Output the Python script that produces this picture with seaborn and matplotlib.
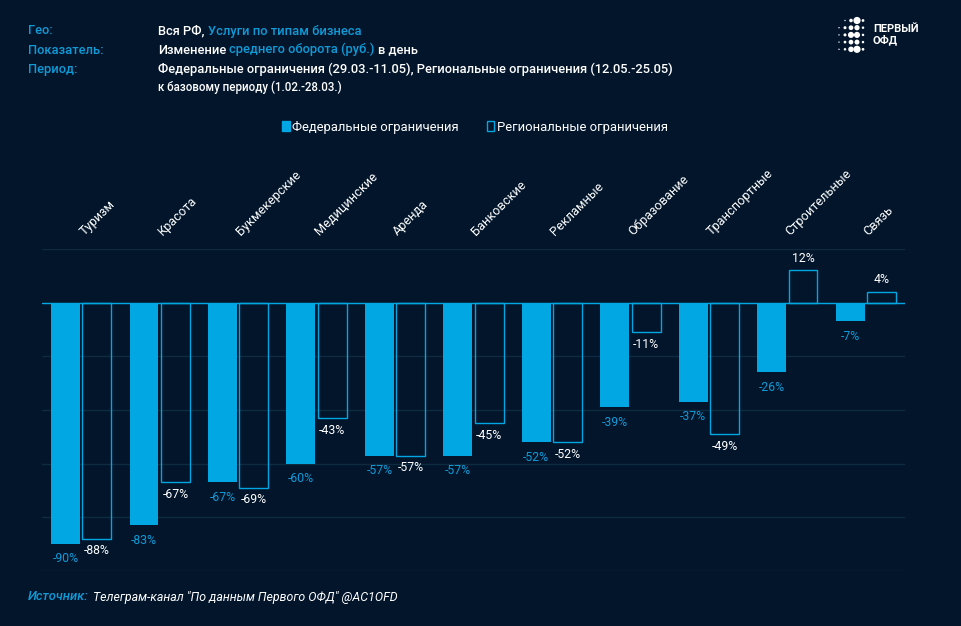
import matplotlib
matplotlib.use("Agg")
import matplotlib.pyplot as plt
import matplotlib.transforms as mtrans
import seaborn as sns
import pandas as pd
from matplotlib.patches import Patch

BG = "#02152B"
BLUE = "#00A7E3"
TXTBLUE = "#0E9BD8"
GRID = "#0F2B40"

categories = ["Туризм", "Красота", "Букмекерские", "Медицинские", "Аренда", "Банковские",
              "Рекламные", "Образование", "Транспортные", "Строительные", "Связь"]
federal = [-90, -83, -67, -60, -57, -57, -52, -39, -37, -26, -7]
regional = [-88, -67, -69, -43, -57, -45, -52, -11, -49, 12, 4]
series_names = ["Федеральные ограничения", "Региональные ограничения"]

df = pd.DataFrame({
    "cat": categories * 2,
    "val": federal + regional,
    "series": [series_names[0]] * len(categories) + [series_names[1]] * len(categories),
})

sns.set_theme(style="dark")
FONT = ["Roboto", "DejaVu Sans"]
plt.rcParams["font.family"] = FONT

W, H = 962, 626
fig = plt.figure(figsize=(W / 100, H / 100), dpi=100, facecolor=BG)
ax = fig.add_axes([42 / W, 1 - 571 / H, (905 - 42) / W, (571 - 249) / H], facecolor=BG)

sns.barplot(data=df, x="cat", y="val", hue="series", order=categories, hue_order=series_names,
            palette=[BLUE, BLUE], saturation=1, width=0.8, gap=0.08, legend=False, ax=ax, zorder=3)

ax.set_xlim(-0.5, len(categories) - 0.5)
ax.set_ylim(-100, 20)
ax.set_yticks([-100, -80, -60, -40, -20, 0, 20])
ax.grid(False)
ax.yaxis.grid(True, color=GRID, lw=1)
ax.set_axisbelow(True)
ax.tick_params(axis="y", left=False, labelleft=False)
for s in ax.spines.values():
    s.set_visible(False)
ax.axhline(0, color=BLUE, lw=1, zorder=4)
ax.set_xlabel("")
ax.set_ylabel("")

ax.xaxis.tick_top()
ax.tick_params(axis="x", top=False, bottom=False, pad=2, colors="white", labelsize=9.2)
shift = mtrans.ScaledTranslation(5 / 100, 0, fig.dpi_scale_trans)
for lbl in ax.get_xticklabels():
    lbl.set_rotation(45)
    lbl.set_ha("left")
    lbl.set_va("bottom")
    lbl.set_rotation_mode("anchor")
    lbl.set_transform(lbl.get_transform() + shift)

fed_c, reg_c = ax.containers[0], ax.containers[1]
for p in reg_c:
    p.set_facecolor("none")
    p.set_edgecolor(BLUE)
    p.set_linewidth(1)
for p in fed_c:
    p.set_edgecolor("none")

ax.bar_label(fed_c, labels=[f"{v}%" for v in federal], padding=6, color=TXTBLUE, fontsize=8.8)
ax.bar_label(reg_c, labels=[f"{v}%" for v in regional], padding=4, color="white", fontsize=8.8)


def tx(x, y, s, color="white", size=9.25, **kw):
    return fig.text(x / W, 1 - (y + 3.5) / H, s, color=color, fontsize=size, va="baseline", **kw)


def runs(x, y, parts, size=9.25, **kw):
    r = fig.canvas.get_renderer()
    for s, c in parts:
        t = tx(x, y, s, c, size, **kw)
        x += t.get_window_extent(r).width + 3.2


for y, s in [(31, "Гео:"), (50, "Показатель:"), (70, "Период:")]:
    tx(28, y, s, TXTBLUE, 9.25, fontweight="medium")
runs(158, 31, [("Вся РФ,", "white"), ("Услуги по типам бизнеса", TXTBLUE)], fontweight="medium")
runs(158, 50, [("Изменение", "white"), ("среднего оборота (руб.)", TXTBLUE), ("в день", "white")], fontweight="medium")
tx(158, 70, "Федеральные ограничения (29.03.-11.05), Региональные ограничения (12.05.-25.05)", fontweight="medium")
tx(158, 87, "к базовому периоду (1.02.-28.03.)", size=8.3, fontweight="medium")

handles = [Patch(facecolor=BLUE, edgecolor=BLUE), Patch(facecolor="none", edgecolor=BLUE)]
fig.legend(handles, series_names, loc="center", bbox_to_anchor=(475 / W, 1 - 127 / H), ncol=2, frameon=False,
           labelcolor="white", fontsize=9.4, handlelength=0.6, handleheight=0.8, handletextpad=0.2, columnspacing=2.1)

tx(28, 597, "Источник:", TXTBLUE, 9.4, fontstyle="italic", fontweight="medium")
tx(93, 597, 'Телеграм-канал "По данным Первого ОФД" @AC1OFD', size=8.95, fontstyle="italic")

# logo
logo = fig.add_axes([0, 0, 1, 1], facecolor="none")
logo.set_xlim(0, W)
logo.set_ylim(H, 0)
logo.axis("off")
logo_rows = [[None, .5, 1.3, 2.6, 1], [.5, 1.1, 1.7, 1.9, .9], [.5, 1.1, 2.2, 2.2, .9], [.5, 1, 1.7, 1.8, .9],
             [.5, .9, 2, 2.6, 1]]
xs, ys, ss = [], [], []
for j, row in enumerate(logo_rows):
    for i, v in enumerate(row):
        if v:
            xs.append(839 + i * 6)
            ys.append(20.5 + j * 7.2)
            ss.append((v * 2.0) ** 2)
logo.scatter(xs, ys, s=ss, c="white", lw=0)
logo.text(873, 29.5, "ПЕРВЫЙ", color="white", fontsize=8, fontweight="bold", va="center")
logo.text(873, 40, "ОФД", color="white", fontsize=8, fontweight="bold", va="center")

fig.savefig("out.png", dpi=100, facecolor=BG)
